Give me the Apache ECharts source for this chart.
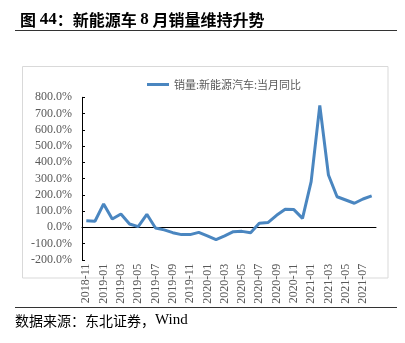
<!DOCTYPE html>
<html><head><meta charset="utf-8">
<script src="https://cdn.jsdelivr.net/npm/echarts@6/dist/echarts.min.js"></script>
<style>html,body{margin:0;padding:0;background:#fff}#c{width:405px;height:343px}</style>
</head><body><div id="c"></div>
<script>
const categories = ['2018-11','2018-12','2019-01','2019-02','2019-03','2019-04','2019-05','2019-06','2019-07','2019-08','2019-09','2019-10','2019-11','2019-12','2020-01','2020-02','2020-03','2020-04','2020-05','2020-06','2020-07','2020-08','2020-09','2020-10','2020-11','2020-12','2021-01','2021-02','2021-03','2021-04','2021-05','2021-06','2021-07','2021-08'];
const yoy = [41,37,144,51,82,20,4,80,-4,-16,-33,-45,-45,-31,-53,-76,-53,-27,-25,-33,25,29,74,111,109,55,281,750,322,188,168,148,174,193];
const seriesName = '销量:新能源汽车:当月同比';
const titleParts = ['图 ', '44', '：新能源车 ', '8', ' 月销量维持升势'];
const sourceParts = ['数据来源：东北证券，', 'Wind'];

const chart = echarts.init(document.getElementById('c'));
chart.setOption({
  animation:false,
  title:{
    text:'{c|'+titleParts[0]+'}{n|'+titleParts[1]+'}{c|'+titleParts[2]+'}{n|'+titleParts[3]+'}{c|'+titleParts[4]+'}',
    left:15,top:6,
    textStyle:{rich:{
      c:{fontFamily:'Noto Sans CJK SC',fontSize:16,fontWeight:'bold',color:'#000'},
      n:{fontFamily:'Liberation Serif',fontSize:17,fontWeight:'bold',color:'#000'}
    }}},
  legend:{data:[seriesName],left:142,top:74,itemWidth:22,itemHeight:3,itemGap:4,icon:'rect',
    textStyle:{fontFamily:'Noto Sans CJK SC',fontSize:11,color:'#595959'}},
  grid:{left:82,right:29,top:97.3,bottom:83.2},
  xAxis:{type:'category',data:categories,boundaryGap:true,
    axisLine:{onZero:true,lineStyle:{color:'#000',width:1}},
    axisTick:{inside:true,length:3,interval:1,lineStyle:{color:'#000'}},
    axisLabel:{interval:1,rotate:90,fontFamily:'Liberation Serif',fontSize:12,color:'#595959',margin:4}},
  yAxis:{type:'value',min:-200,max:800,interval:100,
    axisLine:{show:true,lineStyle:{color:'#000',width:1}},
    axisTick:{show:true,inside:true,length:3,lineStyle:{color:'#000'}},
    splitLine:{show:false},
    axisLabel:{formatter:v=>v.toFixed(1)+'%',fontFamily:'Liberation Serif',fontSize:12,color:'#595959',margin:10}},
  series:[{name:seriesName,type:'line',data:yoy,showSymbol:false,symbol:'none',
    lineStyle:{color:'#4a86c0',width:3},itemStyle:{color:'#4a86c0'}}],
  graphic:[
    {type:'line',shape:{x1:15,y1:30.5,x2:397,y2:30.5},style:{stroke:'#333',lineWidth:1}},
    {type:'rect',shape:{x:22.5,y:66.5,width:365.5,height:211.5},style:{fill:'none',stroke:'#d9d9d9',lineWidth:1}},
    {type:'line',shape:{x1:15,y1:307.5,x2:397,y2:307.5},style:{stroke:'#333',lineWidth:1}},
    {type:'text',left:15,top:313,style:{
      text:'{c|'+sourceParts[0]+'}{w|'+sourceParts[1]+'}',
      rich:{c:{fontFamily:'Noto Sans CJK SC',fontSize:14,fill:'#000'},w:{fontFamily:'Liberation Serif',fontSize:15,fill:'#000'}}}}
  ]
});
</script></body></html>
